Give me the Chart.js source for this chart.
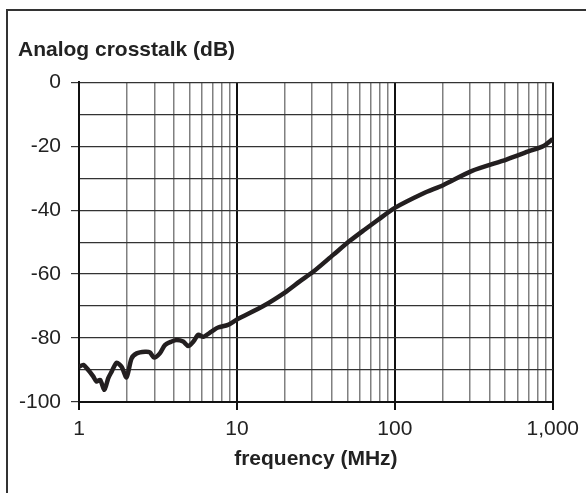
<!DOCTYPE html>
<html>
<head>
<meta charset="utf-8">
<script src="https://cdn.jsdelivr.net/npm/chart.js@4/dist/chart.umd.min.js"></script>
<style>
    html, body { margin: 0; padding: 0; background: #fff; }
    body { width: 586px; height: 493px; position: relative; overflow: hidden; }
    .frame {
        position: absolute; left: 6px; top: 9px; right: 0; bottom: 0;
        border-left: 2px solid #333; border-top: 2px solid #333;
    }
    #chart { position: absolute; left: 0; top: 0; }
</style>
</head>
<body>
<div class="frame"></div>
<canvas id="chart" width="586" height="493"></canvas>
<script>
// frequency in MHz, crosstalk in dB
const freq = [1, 1.065, 1.145, 1.23, 1.29, 1.36, 1.45, 1.53, 1.61, 1.73, 1.86, 2.0, 2.15, 2.32,
    2.62, 2.81, 2.99, 3.25, 3.5, 3.86, 4.15, 4.57, 4.92, 5.3, 5.69, 6.12, 6.9, 7.6, 8.78, 10,
    14.7, 20.1, 25, 30.4, 40.7, 51.9, 64, 78, 100, 151, 202, 306, 509, 715, 868, 1000];
const crosstalk = [-89, -88.4, -90, -92, -93.6, -93.1, -96.2, -92.6, -90.5, -87.7, -89, -92.3, -86.4, -84.8,
    -84.3, -84.5, -86.1, -84.8, -82.2, -81.1, -80.6, -81.1, -82.5, -81.1, -79, -79.6, -78, -76.7, -75.9, -74.2,
    -70, -65.8, -62.3, -59.3, -54, -49.6, -46.2, -43.1, -39.3, -34.8, -32.2, -27.8, -24.2, -21.5, -20, -17.8];

const xTicks = [1, 2, 3, 4, 5, 6, 7, 8, 9, 10, 20, 30, 40, 50, 60, 70, 80, 90,
    100, 200, 300, 400, 500, 600, 700, 800, 900, 1000];
const xLabels = [1, 10, 100, 1000];
const yLabels = [0, -20, -40, -60, -80, -100];

const isDecade = (v) => xLabels.includes(v);

const chartNode = document.querySelector('#chart');

const chart = new Chart(chartNode, {
    type: 'line',
    data: {
        datasets: [{
            data: freq.map((f, i) => ({ x: f, y: crosstalk[i] })),
            borderColor: '#231f20',
            borderWidth: 4.5,
            pointRadius: 0,
            tension: 0.25,
            fill: false
        }]
    },
    options: {
        responsive: false,
        animation: false,
        layout: {
            padding: { left: 18, right: 33, top: 0, bottom: 16 }
        },
        plugins: {
            legend: { display: false },
            tooltip: { enabled: false },
            title: {
                display: true,
                text: 'Analog crosstalk (dB)',
                align: 'start',
                color: '#222',
                font: { family: 'Liberation Sans', size: 21, weight: 'bold' },
                padding: { top: 38, bottom: 19 }
            }
        },
        scales: {
            x: {
                type: 'logarithmic',
                min: 1,
                max: 1000,
                afterBuildTicks: (scale) => {
                    scale.ticks = xTicks.map(v => ({ value: v }));
                },
                afterFit: (scale) => { scale.height = 75; },
                ticks: {
                    autoSkip: false,
                    maxRotation: 0,
                    padding: 7,
                    color: '#222',
                    font: { family: 'Liberation Sans', size: 21 },
                    callback: (v) => isDecade(v) ? v.toLocaleString('en-US') : ''
                },
                grid: {
                    color: (ctx) => ctx.tick && isDecade(ctx.tick.value) ? '#111' : '#808080',
                    lineWidth: (ctx) => ctx.tick && isDecade(ctx.tick.value) ? 2 : 1.5,
                    tickColor: (ctx) => ctx.tick && isDecade(ctx.tick.value) ? '#111' : 'rgba(0,0,0,0)',
                    tickLength: 8
                },
                border: { color: '#111', width: 2 },
                title: {
                    display: true,
                    text: 'frequency (MHz)',
                    color: '#222',
                    font: { family: 'Liberation Sans', size: 21, weight: 'bold' },
                    padding: { top: 5, bottom: 5 }
                }
            },
            y: {
                min: -100,
                max: 0,
                afterFit: (scale) => { scale.width = 61; },
                ticks: {
                    stepSize: 10,
                    padding: 10,
                    color: '#222',
                    font: { family: 'Liberation Sans', size: 21 },
                    callback: (v) => yLabels.includes(v) ? String(v) : ''
                },
                grid: {
                    color: '#333',
                    lineWidth: 1.2,
                    tickColor: (ctx) => ctx.tick && yLabels.includes(ctx.tick.value) ? '#333' : 'rgba(0,0,0,0)',
                    tickLength: 8
                },
                border: { color: '#111', width: 2 }
            }
        }
    }
});
</script>
</body>
</html>
